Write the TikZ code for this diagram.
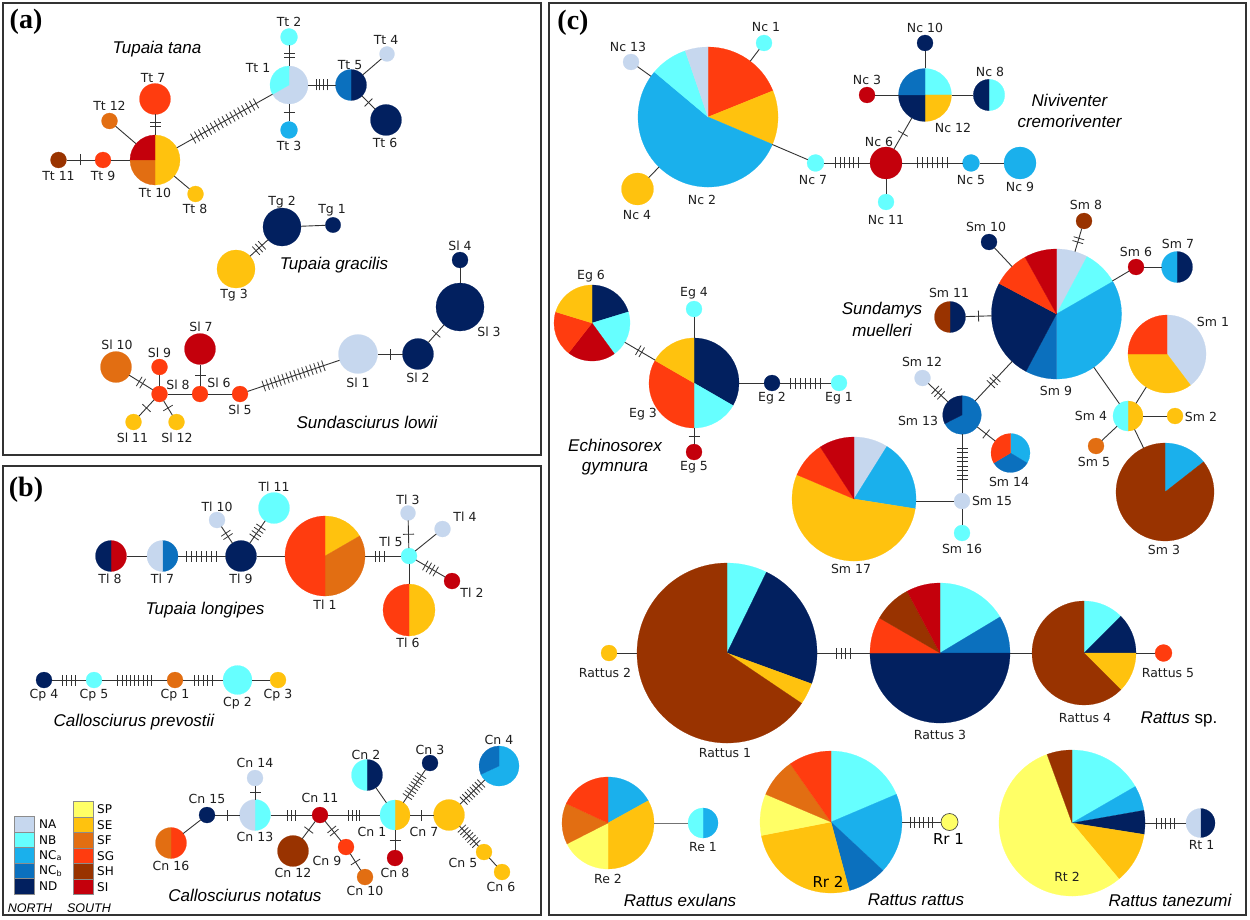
\documentclass[tikz,border=0pt]{standalone}
\usepackage{fontspec}
\setmainfont{DejaVu Sans}
\newfontfamily\spfont{Liberation Sans}
\newfontfamily\pfont{Liberation Serif}
\definecolor{cNA}{HTML}{C6D7EE}
\definecolor{cNB}{HTML}{66FFFF}
\definecolor{cNCa}{HTML}{1AB0EC}
\definecolor{cNCb}{HTML}{0B70BE}
\definecolor{cND}{HTML}{02205F}
\definecolor{cSP}{HTML}{FFFF66}
\definecolor{cSE}{HTML}{FFC20E}
\definecolor{cSF}{HTML}{E26E12}
\definecolor{cSG}{HTML}{FF3C0F}
\definecolor{cSH}{HTML}{993300}
\definecolor{cSI}{HTML}{C4000C}
\definecolor{lnc}{HTML}{333333}
\tikzset{
  hapn/.style={circle,inner sep=0pt,outer sep=0pt},
  lnk/.style={draw=lnc,line width=0.9pt},
  tkl/.style={draw=lnc,line width=0.8pt},
  lab/.style={font=\fontsize{12.5}{14}\selectfont,inner sep=0pt,text=black!88},
  bigl/.style={font=\fontsize{15}{17}\selectfont,inner sep=0pt,text=black},
  spn/.style={font=\spfont\itshape\fontsize{17}{21}\selectfont,inner sep=0pt,align=center},
  pnl/.style={font=\pfont\bfseries\fontsize{28}{30}\selectfont,inner sep=0pt},
  frm/.style={draw=black!80,line width=1.5pt},
  lgbox/.style={draw=black!45,line width=0.8pt,minimum width=20pt,minimum height=15.5pt,inner sep=0pt},
  lgl/.style={font=\fontsize{12}{13}\selectfont,inner sep=0pt,anchor=west},
  lgh/.style={font=\spfont\itshape\fontsize{12.5}{13}\selectfont,inner sep=0pt},
  pics/tk/.style 2 args={code={\foreach \i in {1,...,#1}{\draw[tkl] ({(\i-(#1+1)/2)*#2},-5.5) -- ++(0,11);}}}
}
% haplotype pie: name, x, y(down), radius, slices colour/start/end (degrees clockwise from top)
\newcommand\hap[5]{%
  \node[hapn,minimum size={2*#4}] (#1) at (#2,-#3) {};
  \foreach \hc/\ha/\hb in {#5}{%
    \fill[c\hc,draw=c\hc,line width=0.2pt] (#1.center) -- ++({90-\ha}:#4) arc[start angle={90-\ha},end angle={90-\hb},radius=#4] -- cycle;}%
}
\newcommand\lab[4]{\node[lab] (#1) at (#2,-#3) {#4};}
\newcommand\ed[2]{\draw[lnk] (#1) -- (#2);}
\newcommand\edt[5][0.5]{\draw[lnk] (#2) -- (#3) pic[pos=#1,sloped]{tk={#4}{#5}};}
\begin{document}
\begin{tikzpicture}[x=1pt,y=1pt]
\useasboundingbox (0,0) rectangle (1250,-920);
\fill[white] (0,0) rectangle (1250,-920);
% frames
\draw[frm] (3,-3) rectangle (541,-455);
\draw[frm] (3,-466) rectangle (541,-915);
\draw[frm] (549,-3) rectangle (1246,-915);
\node[pnl] (pa) at (26,-22) {(a)};
\node[pnl] (pb) at (26,-490) {(b)};
\node[pnl] (pc) at (573,-23) {(c)};

%%%%%%%%%%%%%%%% PANEL A
\hap{Tt1}{289}{85}{19}{NA/0/240,NB/240/360}
\hap{Tt2}{289}{37}{8.5}{NB/0/360}
\hap{Tt3}{289}{130}{8.5}{NCa/0/360}
\hap{Tt5}{351}{85}{15.5}{ND/0/180,NCb/180/360}
\hap{Tt4}{387}{54}{7.5}{NA/0/360}
\hap{Tt6}{386}{120}{15.5}{ND/0/360}
\hap{Tt10}{155}{160}{25}{SE/0/180,SF/180/270,SI/270/360}
\hap{Tt7}{155}{99}{15.5}{SG/0/360}
\hap{Tt12}{109.5}{121}{8}{SF/0/360}
\hap{Tt9}{103}{160}{8}{SG/0/360}
\hap{Tt11}{58.5}{160}{8}{SH/0/360}
\hap{Tt8}{195.5}{194}{8}{SE/0/360}
\edt{Tt1}{Tt2}{2}{4}
\edt{Tt1}{Tt3}{1}{4}
\edt{Tt1}{Tt5}{4}{3.8}
\ed{Tt5}{Tt4}
\edt{Tt5}{Tt6}{1}{4}
\edt{Tt10}{Tt1}{17}{4.5}
\edt{Tt10}{Tt7}{2}{4}
\ed{Tt10}{Tt12}
\ed{Tt10}{Tt9}
\edt{Tt9}{Tt11}{1}{4}
\ed{Tt10}{Tt8}
\lab{lTt1}{258}{68}{Tt 1}
\lab{lTt2}{289}{22}{Tt 2}
\lab{lTt3}{289}{146}{Tt 3}
\lab{lTt5}{350}{65}{Tt 5}
\lab{lTt4}{386}{40}{Tt 4}
\lab{lTt6}{385}{143}{Tt 6}
\lab{lTt10}{155}{193}{Tt 10}
\lab{lTt7}{153}{78}{Tt 7}
\lab{lTt12}{109.5}{106}{Tt 12}
\lab{lTt9}{103}{176}{Tt 9}
\lab{lTt11}{58.5}{176}{Tt 11}
\lab{lTt8}{195}{209}{Tt 8}
\node[spn] (spTt) at (157,-49) {Tupaia tana};

\hap{Tg2}{282}{227}{19}{ND/0/360}
\hap{Tg1}{333}{225}{7.7}{ND/0/360}
\hap{Tg3}{236}{269}{19}{SE/0/360}
\ed{Tg2}{Tg1}
\edt{Tg2}{Tg3}{3}{4}
\lab{lTg2}{282}{202}{Tg 2}
\lab{lTg1}{332}{210}{Tg 1}
\lab{lTg3}{234}{295}{Tg 3}
\node[spn] (spTg) at (334,-265) {Tupaia gracilis};

\hap{Sl4}{460}{260}{8}{ND/0/360}
\hap{Sl3}{460}{307}{24}{ND/0/360}
\hap{Sl2}{418}{354}{15.5}{ND/0/360}
\hap{Sl1}{358}{354}{19.5}{NA/0/360}
\hap{Sl5}{240}{394}{8}{SG/0/360}
\hap{Sl6}{200}{394}{8}{SG/0/360}
\hap{Sl7}{200}{349}{15.5}{SI/0/360}
\hap{Sl8}{159.5}{394}{8}{SG/0/360}
\hap{Sl9}{159.5}{367}{8}{SG/0/360}
\hap{Sl10}{116}{367}{15.5}{SF/0/360}
\hap{Sl11}{133.5}{422}{8}{SE/0/360}
\hap{Sl12}{176.5}{422}{8}{SE/0/360}
\ed{Sl3}{Sl4}
\edt{Sl3}{Sl2}{1}{4}
\edt{Sl2}{Sl1}{1}{4}
\edt{Sl1}{Sl5}{16}{4.2}
\ed{Sl5}{Sl6}
\edt{Sl6}{Sl7}{1}{4}
\ed{Sl6}{Sl8}
\ed{Sl8}{Sl9}
\edt{Sl8}{Sl10}{2}{4}
\edt{Sl8}{Sl11}{1}{4}
\edt{Sl8}{Sl12}{1}{4}
\lab{lSl4}{460}{246}{Sl 4}
\lab{lSl3}{489}{332}{Sl 3}
\lab{lSl2}{418}{378}{Sl 2}
\lab{lSl1}{358}{383}{Sl 1}
\lab{lSl5}{240}{410}{Sl 5}
\lab{lSl6}{219}{383}{Sl 6}
\lab{lSl7}{201}{327}{Sl 7}
\lab{lSl8}{178}{385}{Sl 8}
\lab{lSl9}{159.5}{353}{Sl 9}
\lab{lSl10}{117}{345}{Sl 10}
\lab{lSl11}{132.5}{438}{Sl 11}
\lab{lSl12}{177}{438}{Sl 12}
\node[spn] (spSl) at (367,-422) {Sundasciurus lowii};

%%%%%%%%%%%%%%%% PANEL B
\hap{Tl8}{111}{556}{15.5}{SI/0/180,ND/180/360}
\hap{Tl7}{162.5}{556}{15.5}{NCb/0/180,NA/180/360}
\hap{Tl9}{241}{556}{15.5}{ND/0/360}
\hap{Tl10}{217}{520}{8}{NA/0/360}
\hap{Tl11}{274}{508}{15.5}{NB/0/360}
\hap{Tl1}{325}{556}{40}{SE/0/60,SF/60/180,SG/180/360}
\hap{Tl5}{409}{556}{8}{NB/0/360}
\hap{Tl3}{408}{513}{7.5}{NA/0/360}
\hap{Tl4}{442.5}{529}{8}{NA/0/360}
\hap{Tl2}{452}{581}{8}{SI/0/360}
\hap{Tl6}{409}{610}{26}{SE/0/180,SG/180/360}
\ed{Tl8}{Tl7}
\edt{Tl7}{Tl9}{7}{5}
\edt{Tl9}{Tl10}{2}{4}
\edt{Tl9}{Tl11}{4}{4}
\ed{Tl9}{Tl1}
\edt[0.4]{Tl1}{Tl5}{3}{4.5}
\edt{Tl5}{Tl3}{1}{4}
\ed{Tl5}{Tl4}
\edt{Tl5}{Tl2}{4}{4}
\ed{Tl5}{Tl6}
\lab{lTl8}{110}{579}{Tl 8}
\lab{lTl7}{162.5}{579}{Tl 7}
\lab{lTl9}{241}{579}{Tl 9}
\lab{lTl10}{217}{507}{Tl 10}
\lab{lTl11}{274}{487}{Tl 11}
\lab{lTl1}{325}{605}{Tl 1}
\lab{lTl5}{391}{542}{Tl 5}
\lab{lTl3}{408}{500}{Tl 3}
\lab{lTl4}{465}{517}{Tl 4}
\lab{lTl2}{472}{593}{Tl 2}
\lab{lTl6}{408}{643}{Tl 6}
\node[spn] (spTl) at (205,-610) {Tupaia longipes};

\hap{Cp4}{44}{680}{8}{ND/0/360}
\hap{Cp5}{94}{680}{8}{NB/0/360}
\hap{Cp1}{175}{680}{8}{SF/0/360}
\hap{Cp2}{237.5}{680}{14.5}{NB/0/360}
\hap{Cp3}{278}{680}{8}{SE/0/360}
\edt{Cp4}{Cp5}{4}{4.3}
\edt{Cp5}{Cp1}{9}{4.2}
\edt{Cp1}{Cp2}{5}{4.5}
\ed{Cp2}{Cp3}
\lab{lCp4}{44}{695}{Cp 4}
\lab{lCp5}{94}{695}{Cp 5}
\lab{lCp1}{175}{695}{Cp 1}
\lab{lCp2}{237.5}{703}{Cp 2}
\lab{lCp3}{278}{695}{Cp 3}
\node[spn] (spCp) at (134,-722) {Callosciurus prevostii};

\hap{Cn4}{499}{766}{20}{NCa/0/245,NCb/245/360}
\hap{Cn3}{430}{763}{8}{ND/0/360}
\hap{Cn2}{367}{775}{15.5}{ND/0/180,NB/180/360}
\hap{Cn1}{395}{815}{15}{SE/0/180,NB/180/360}
\hap{Cn7}{449}{815}{15.5}{SE/0/360}
\hap{Cn5}{484}{852}{8}{SE/0/360}
\hap{Cn6}{502}{872}{8}{SE/0/360}
\hap{Cn8}{395}{858}{8}{SI/0/360}
\hap{Cn11}{320}{815}{8}{SI/0/360}
\hap{Cn12}{293}{851}{15.5}{SH/0/360}
\hap{Cn9}{346}{847}{8}{SG/0/360}
\hap{Cn10}{365}{877}{8}{SF/0/360}
\hap{Cn13}{255}{815}{15.5}{NB/0/180,NA/180/360}
\hap{Cn14}{255}{778}{8}{NA/0/360}
\hap{Cn15}{207}{815}{8}{ND/0/360}
\hap{Cn16}{171}{843}{15.5}{SG/0/180,SF/180/360}
\ed{Cn16}{Cn15}
\edt{Cn15}{Cn13}{1}{4}
\edt{Cn13}{Cn14}{1}{4}
\edt{Cn13}{Cn11}{3}{4}
\edt{Cn11}{Cn12}{1}{4}
\edt{Cn11}{Cn9}{2}{4}
\edt{Cn9}{Cn10}{1}{4}
\edt{Cn11}{Cn1}{4}{3.8}
\ed{Cn1}{Cn2}
\edt{Cn1}{Cn3}{8}{3.6}
\edt{Cn1}{Cn8}{1}{4}
\edt{Cn1}{Cn7}{1}{4}
\edt{Cn7}{Cn4}{8}{3.5}
\edt{Cn7}{Cn5}{7}{3.5}
\ed{Cn5}{Cn6}
\lab{lCn4}{499}{740}{Cn 4}
\lab{lCn3}{430}{750}{Cn 3}
\lab{lCn2}{366}{755}{Cn 2}
\lab{lCn1}{372}{832}{Cn 1}
\lab{lCn7}{424}{832}{Cn 7}
\lab{lCn5}{463}{863}{Cn 5}
\lab{lCn6}{501}{887}{Cn 6}
\lab{lCn8}{395}{873}{Cn 8}
\lab{lCn11}{320}{798}{Cn 11}
\lab{lCn12}{293}{873}{Cn 12}
\lab{lCn9}{327}{861}{Cn 9}
\lab{lCn10}{365}{891}{Cn 10}
\lab{lCn13}{255}{837}{Cn 13}
\lab{lCn14}{255}{763}{Cn 14}
\lab{lCn15}{207}{799}{Cn 15}
\lab{lCn16}{171}{866}{Cn 16}
\node[spn] (spCn) at (245,-895) {Callosciurus notatus};

% legend
\node[lgbox,fill=cNA] (bNA) at (24.5,-824.5) {};
\node[lgbox,fill=cNB] (bNB) at (24.5,-840) {};
\node[lgbox,fill=cNCa] (bNCa) at (24.5,-855.5) {};
\node[lgbox,fill=cNCb] (bNCb) at (24.5,-871) {};
\node[lgbox,fill=cND] (bND) at (24.5,-886.5) {};
\node[lgbox,fill=cSP] (bSP) at (83,-809.5) {};
\node[lgbox,fill=cSE] (bSE) at (83,-825) {};
\node[lgbox,fill=cSF] (bSF) at (83,-840.5) {};
\node[lgbox,fill=cSG] (bSG) at (83,-856) {};
\node[lgbox,fill=cSH] (bSH) at (83,-871.5) {};
\node[lgbox,fill=cSI] (bSI) at (83,-887) {};
\node[lgl] (tNA) at (39,-824.5) {NA};
\node[lgl] (tNB) at (39,-840) {NB};
\node[lgl] (tNCa) at (39,-855.5) {NC\textsubscript{a}};
\node[lgl] (tNCb) at (39,-871) {NC\textsubscript{b}};
\node[lgl] (tND) at (39,-886.5) {ND};
\node[lgl] (tSP) at (97,-809.5) {SP};
\node[lgl] (tSE) at (97,-825) {SE};
\node[lgl] (tSF) at (97,-840.5) {SF};
\node[lgl] (tSG) at (97,-856) {SG};
\node[lgl] (tSH) at (97,-871.5) {SH};
\node[lgl] (tSI) at (97,-887) {SI};
\node[lgh] (tNorth) at (30,-908) {NORTH};
\node[lgh] (tSouth) at (89,-908) {SOUTH};

%%%%%%%%%%%%%%%% PANEL C
\hap{Nc2}{708}{117}{70}{SG/0/68,SE/68/113,NCa/113/310,NB/310/341,NA/341/360}
\hap{Nc1}{764}{43}{8}{NB/0/360}
\hap{Nc13}{631}{62}{8}{NA/0/360}
\hap{Nc4}{637.5}{189}{16}{SE/0/360}
\hap{Nc7}{815.5}{163}{8.5}{NB/0/360}
\hap{Nc6}{886}{163}{16}{SI/0/360}
\hap{Nc11}{886}{202}{8}{NB/0/360}
\hap{Nc5}{971}{163}{8.5}{NCa/0/360}
\hap{Nc9}{1020}{163}{16}{NCa/0/360}
\hap{Nc12}{925}{95}{26.5}{NB/0/90,SE/90/180,ND/180/270,NCb/270/360}
\hap{Nc10}{925}{43}{8}{ND/0/360}
\hap{Nc3}{867}{95}{8}{SI/0/360}
\hap{Nc8}{989}{95}{15.7}{NB/0/180,ND/180/360}
\ed{Nc2}{Nc13}
\ed{Nc2}{Nc1}
\ed{Nc2}{Nc4}
\ed{Nc2}{Nc7}
\edt{Nc7}{Nc6}{6}{4.5}
\ed{Nc6}{Nc11}
\edt{Nc6}{Nc5}{7}{5}
\ed{Nc5}{Nc9}
\edt{Nc6}{Nc12}{1}{4}
\ed{Nc12}{Nc10}
\ed{Nc12}{Nc3}
\ed{Nc12}{Nc8}
\lab{lNc2}{702}{200}{Nc 2}
\lab{lNc1}{766}{27}{Nc 1}
\lab{lNc13}{628}{47}{Nc 13}
\lab{lNc4}{637}{215}{Nc 4}
\lab{lNc7}{813}{180}{Nc 7}
\lab{lNc6}{879}{142}{Nc 6}
\lab{lNc11}{886}{220}{Nc 11}
\lab{lNc5}{971}{180}{Nc 5}
\lab{lNc9}{1020}{187}{Nc 9}
\lab{lNc12}{953}{128}{Nc 12}
\lab{lNc10}{925}{28}{Nc 10}
\lab{lNc3}{867}{80}{Nc 3}
\lab{lNc8}{990}{72}{Nc 8}
\node[spn] (spNc) at (1069.5,-111) {Niviventer\\cremoriventer};

\hap{Eg6}{592}{323}{38}{ND/0/73,NB/73/144,SI/144/218,SG/218/287,SE/287/360}
\hap{Eg4}{694}{309}{8}{NB/0/360}
\hap{Eg3}{694}{383}{45}{ND/0/120,NB/120/180,SG/180/300,SE/300/360}
\hap{Eg2}{772}{383}{8}{ND/0/360}
\hap{Eg1}{839}{383}{8}{NB/0/360}
\hap{Eg5}{694}{452}{8}{SI/0/360}
\edt{Eg6}{Eg3}{2}{4}
\ed{Eg3}{Eg4}
\ed{Eg3}{Eg2}
\edt{Eg2}{Eg1}{7}{5}
\edt{Eg3}{Eg5}{1}{4}
\lab{lEg6}{591}{276}{Eg 6}
\lab{lEg4}{694}{293}{Eg 4}
\lab{lEg3}{643}{414}{Eg 3}
\lab{lEg2}{772}{398}{Eg 2}
\lab{lEg1}{839}{398}{Eg 1}
\lab{lEg5}{694}{467}{Eg 5}
\node[spn,font=\spfont\itshape\fontsize{17}{20}\selectfont] (spEg) at (615,-457) {Echinosorex\\gymnura};

\hap{Sm9}{1056.5}{314}{65}{NA/0/28,NB/28/60,NCa/60/180,NCb/180/208,ND/208/298,SG/298/331,SI/331/360}
\hap{Sm8}{1084}{221}{8}{SH/0/360}
\hap{Sm10}{989}{242}{8}{ND/0/360}
\hap{Sm6}{1136}{267}{8}{SI/0/360}
\hap{Sm7}{1177}{267}{15.5}{ND/0/180,NCa/180/360}
\hap{Sm11}{950}{317}{15.5}{ND/0/180,SH/180/360}
\hap{Sm1}{1167}{354}{39}{NA/0/143,SE/143/270,SG/270/360}
\hap{Sm4}{1128}{416}{15}{SE/0/180,NB/180/360}
\hap{Sm2}{1175}{416}{8}{SE/0/360}
\hap{Sm5}{1096}{446}{8}{SF/0/360}
\hap{Sm3}{1165}{492}{49}{NCa/0/52,SH/52/360}
\hap{Sm12}{922.5}{378}{8}{NA/0/360}
\hap{Sm13}{962}{415}{19.3}{NCb/0/243,ND/243/360}
\hap{Sm14}{1010.5}{453}{19.5}{NCa/0/121,NCb/121/239,SG/239/360}
\hap{Sm15}{962}{501}{8}{NA/0/360}
\hap{Sm16}{962}{533}{8}{NB/0/360}
\hap{Sm17}{854}{499}{62}{NA/0/32,NCa/32/99,SE/99/293,SG/293/327,SI/327/360}
\ed{Sm9}{Sm10}
\edt{Sm9}{Sm8}{2}{4}
\ed{Sm9}{Sm6}
\ed{Sm6}{Sm7}
\edt{Sm11}{Sm9}{1}{4}
\edt{Sm9}{Sm13}{3}{4}
\ed{Sm9}{Sm4}
\ed{Sm4}{Sm1}
\ed{Sm4}{Sm2}
\ed{Sm4}{Sm5}
\ed{Sm4}{Sm3}
\edt{Sm13}{Sm12}{3}{4}
\edt{Sm13}{Sm14}{1}{4}
\edt{Sm13}{Sm15}{8}{4.5}
\ed{Sm15}{Sm16}
\draw[lnk] (Sm15) -- (Sm15 -| Sm17.east);
\lab{lSm9}{1056}{391}{Sm 9}
\lab{lSm8}{1086}{205}{Sm 8}
\lab{lSm10}{986}{227}{Sm 10}
\lab{lSm6}{1136}{252}{Sm 6}
\lab{lSm7}{1178}{244}{Sm 7}
\lab{lSm11}{949}{293}{Sm 11}
\lab{lSm1}{1213}{322}{Sm 1}
\lab{lSm4}{1091}{416}{Sm 4}
\lab{lSm2}{1201}{417}{Sm 2}
\lab{lSm5}{1094}{462}{Sm 5}
\lab{lSm3}{1164}{550}{Sm 3}
\lab{lSm12}{922}{362}{Sm 12}
\lab{lSm13}{918}{421}{Sm 13}
\lab{lSm14}{1009}{482}{Sm 14}
\lab{lSm15}{992}{501}{Sm 15}
\lab{lSm16}{962}{549}{Sm 16}
\lab{lSm17}{851}{569}{Sm 17}
\node[spn,font=\spfont\itshape\fontsize{17}{22}\selectfont] (spSm) at (882,-319) {Sundamys\\muelleri};

\hap{Rattus1}{727}{653}{90}{NB/0/26,ND/26/110,SE/110/124,SH/124/360}
\hap{Rattus2}{609}{653}{8}{SE/0/360}
\hap{Rattus3}{940}{653}{70}{NB/0/59,NCb/59/90,ND/90/270,SG/270/300,SH/300/332,SI/332/360}
\hap{Rattus4}{1084}{653}{52}{NB/0/45,ND/45/90,SE/90/135,SH/135/360}
\hap{Rattus5}{1163.5}{653}{8.5}{SG/0/360}
\ed{Rattus2}{Rattus1}
\edt{Rattus1}{Rattus3}{4}{4.5}
\ed{Rattus3}{Rattus4}
\ed{Rattus4}{Rattus5}
\lab{lRattus1}{725}{753}{Rattus 1}
\lab{lRattus2}{605}{673}{Rattus 2}
\lab{lRattus3}{940}{735}{Rattus 3}
\lab{lRattus4}{1085}{718}{Rattus 4}
\lab{lRattus5}{1168}{673}{Rattus 5}
\node[spn] (spR) at (1179,-719) {Rattus \upshape sp.};

\hap{Re2}{608}{823}{46}{NCa/0/61,SE/61/180,SP/180/243,SF/243/295,SG/295/360}
\hap{Re1}{703}{823}{15}{NCa/0/180,NB/180/360}
\draw[lnk,draw=black!55] (Re2) -- (Re1);
\lab{lRe2}{608}{879}{Re 2}
\lab{lRe1}{703}{847}{Re 1}
\node[spn] (spRe) at (680,-900) {Rattus exulans};

\hap{Rr2}{831}{822}{71}{NB/0/67,NCa/67/133,NCb/133/165,SE/165/259,SP/259/293,SF/293/325,SG/325/360}
\hap{Rr1}{949.5}{822}{8.5}{SP/0/360}
\draw[black!70,line width=0.7pt] (Rr1) circle[radius=8.5];
\edt{Rr2}{Rr1}{6}{4.5}
\node[bigl] (lRr2) at (828,-882) {Rr 2};
\node[bigl] (lRr1) at (948.5,-839) {Rr 1};
\node[spn] (spRr) at (916,-900) {Rattus rattus};

\hap{Rt2}{1072}{823}{73}{NB/0/60,NCa/60/80,ND/80/99,SE/99/140,SP/140/340,SH/340/360}
\hap{Rt1}{1200.5}{823}{14.5}{ND/0/180,NA/180/360}
\edt{Rt2}{Rt1}{5}{4.5}
\lab{lRt2}{1067}{877}{Rt 2}
\lab{lRt1}{1201.5}{845}{Rt 1}
\node[spn] (spRt) at (1170,-900) {Rattus tanezumi};
\end{tikzpicture}
\end{document}
